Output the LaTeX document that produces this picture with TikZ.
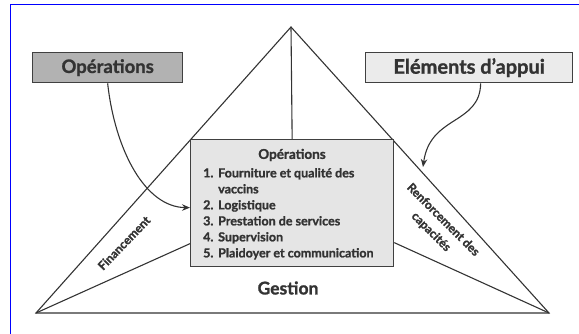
\documentclass[tikz,border=0pt]{standalone}
\usepackage{fontspec}
\setmainfont{Lato}[BoldFeatures={FakeBold=1.3}]
\usetikzlibrary{arrows.meta,positioning}

\begin{document}
\begin{tikzpicture}[x=1pt,y=-1pt,
    frame/.style={draw=black!75,line width=1.3pt,inner sep=0pt,text=black!80},
    tri/.style={draw=black!80,line width=1.1pt},
    link/.style={draw=black!80,line width=1.1pt,-{Stealth[length=8pt,width=6.5pt]}},
    lbl/.style={text=black!80,font=\fontsize{12}{17}\selectfont\bfseries,inner sep=0pt}]
\useasboundingbox (0,0) rectangle (579,334);
\draw[blue,line width=1.6pt] (10.5,334) -- (10.5,4.5) -- (579,4.5);

\coordinate (apex) at (291,27);
\coordinate (lc) at (36,313);
\coordinate (rc) at (549,313);
\draw[tri] (lc) -- (apex) -- (rc) -- cycle;

\node[frame,fill=black!10,minimum width=203pt,minimum height=127pt,anchor=north west] (ops) at (190,139) {};
\draw[tri] (apex) -- (ops.north);
\draw[tri] (lc) -- ([yshift=-40.5pt]ops.west);
\draw[tri] (rc) -- ([yshift=-39.5pt]ops.east);

\node[lbl,font=\fontsize{13.5}{15}\selectfont\bfseries] (opstitle) at (292,155) {Opérations};
\node[lbl,font=\fontsize{12.5}{16}\selectfont\bfseries,anchor=north west] (opslist) at (203,166)
  {\begin{tabular}{@{}p{15pt}@{}l@{}}
   1.&Fourniture et qualité des\\
     &vaccins\\
   2.&Logistique\\
   3.&Prestation de services\\
   4.&Supervision\\
   5.&Plaidoyer et communication
   \end{tabular}};

\node[lbl,font=\fontsize{17.5}{20}\selectfont\bfseries] (gestion) at (288,288) {Gestion};
\node[lbl,rotate=46] (fin) at (124,243) {Financement};
\node[lbl,rotate=-45,align=center] (renf) at (437,226) {Renforcement des\\capacités};

\node[frame,fill=black!30,minimum width=150pt,minimum height=30pt,anchor=north west,
      font=\fontsize{18.5}{20}\selectfont\bfseries] (opsbox) at (32,52) {Opérations};
\node[frame,fill=black!8,minimum width=207pt,minimum height=30pt,anchor=north west,
      font=\fontsize{20}{22}\selectfont\bfseries] (appui) at (365,52) {Eléments d’appui};

\draw[link] (opsbox.south) .. controls (115,150) and (145,207) .. ([yshift=-4.5pt]ops.west);
\coordinate (tip) at (423,167);
\draw[link] ([xshift=11.5pt]appui.south) .. controls (480,125) and (430,115) .. (tip);
\end{tikzpicture}
\end{document}
